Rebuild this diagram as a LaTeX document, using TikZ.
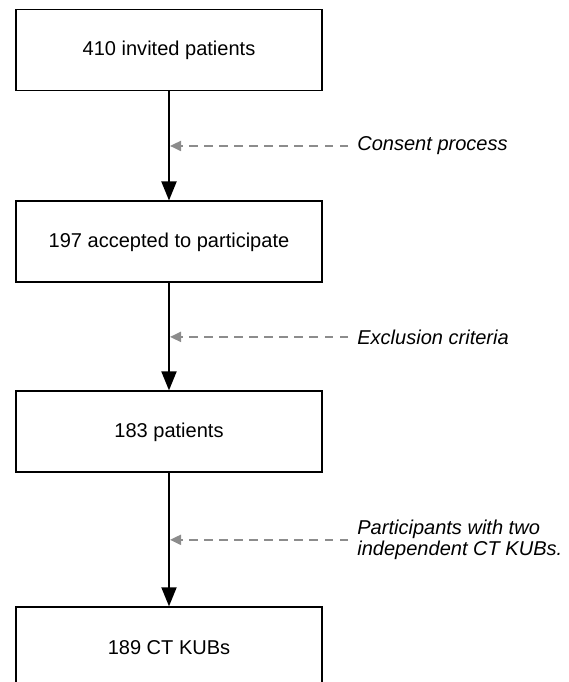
\documentclass[tikz,border=0pt]{standalone}
\usepackage{fontspec}
\setmainfont{Liberation Sans}
\usetikzlibrary{positioning,arrows.meta}

\begin{document}
\begin{tikzpicture}[
	stage/.style={draw, line width=1.1pt, minimum width=6.12cm, minimum height=1.62cm, font=\fontsize{11.4}{13.7}\selectfont},
	flow/.style={line width=1.1pt, -{Triangle[length=0.38cm, width=0.3cm]}},
	remark/.style={inner sep=0.08cm, align=left, font=\fontsize{11.4}{12.2}\selectfont\itshape},
	filter/.style={dash pattern=on 0.17cm off 0.13cm, line width=1.1pt, color=black!45, -{Triangle[length=0.22cm, width=0.2cm]}, shorten >=0.02cm, shorten <=0.1cm}
]
	\useasboundingbox (0,0) rectangle (11.38,13.64);
	\node[stage] (invited) at (3.38,12.64) {410 invited patients};
	\node[stage, below=2.18cm of invited] (accepted) {197 accepted to participate};
	\node[stage, below=2.14cm of accepted] (patients) {183 patients};
	\node[stage, below=2.66cm of patients] (kubs) {189 CT KUBs};
	\draw[flow] (invited) -- coordinate (m1) (accepted);
	\draw[flow] (accepted) -- coordinate (m2) (patients);
	\draw[flow] (patients) -- coordinate (m3) (kubs);
	\node[remark, right=3.68cm of m1] (consent) {Consent process};
	\node[remark, right=3.68cm of m2] (exclusion) {Exclusion criteria};
	\node[remark, right=3.68cm of m3] (twoscans) {Participants with two\\independent CT KUBs.};
	\draw[filter] (consent.west) -- (m1);
	\draw[filter] (exclusion.west) -- (m2);
	\draw[filter] (twoscans.west) -- (m3);
\end{tikzpicture}
\end{document}
